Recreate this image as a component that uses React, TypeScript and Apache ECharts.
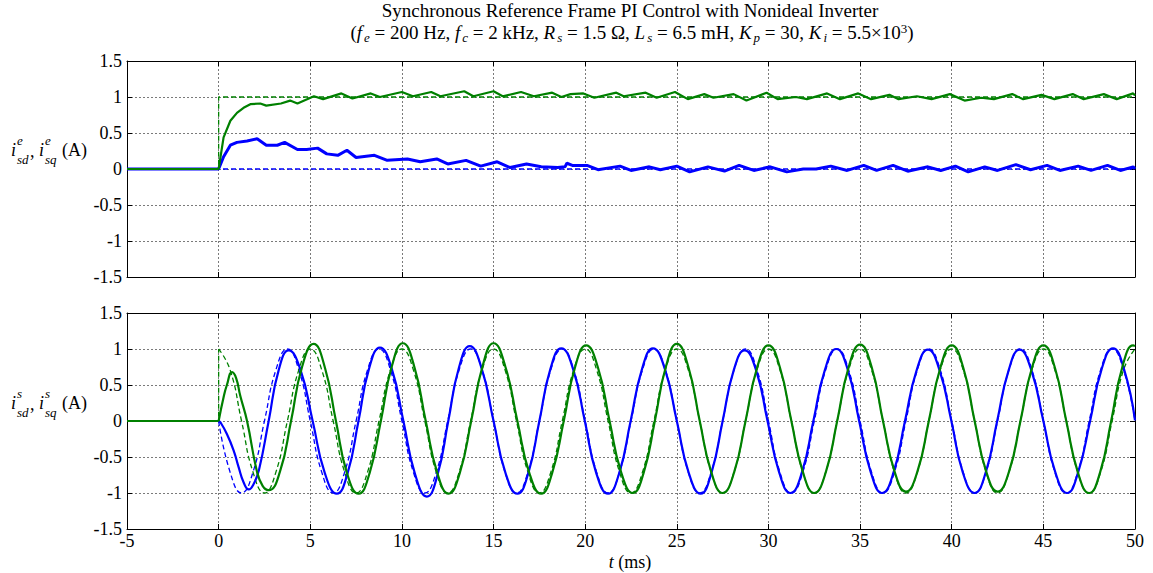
import React, { useEffect, useRef } from 'react';
import * as echarts from 'echarts';

// ---------- DATA ----------
// Top panel: synchronous-frame currents (t in ms, current in A)
const TOP_ISD_REF: number[][] = [[-5, 0], [50, 0]];
const TOP_ISQ_REF: number[][] = [[-5, 0], [0, 0], [0, 1], [50, 1]];
const TOP_ISD: number[][] = [
  [-5, 0], [0, 0], [0.27, 0.17], [0.64, 0.33], [1, 0.37], [1.55, 0.39], [2.1, 0.42], [2.6, 0.33],
  [3.2, 0.33], [3.6, 0.37], [4.3, 0.27], [4.8, 0.27], [5.4, 0.29], [5.9, 0.21], [6.5, 0.19],
  [7, 0.26], [7.5, 0.16], [8.5, 0.19], [9.2, 0.12], [10.3, 0.14], [11, 0.1], [11.9, 0.14],
  [12.5, 0.07], [13.5, 0.12], [14.3, 0.04], [15.2, 0.1], [15.9, 0.02], [16.8, 0.07], [17.6, 0.03],
  [18.5, 0.02], [18.9, 0.03], [19.0, 0.08], [19.3, 0.05], [20.1, 0.05], [20.7, -0.01], [21.9, 0.04],
  [22.5, -0.02], [23.5, 0.03], [24.1, -0.01], [25, 0.04], [25.7, -0.04], [26.7, 0.03], [27.6, -0.03],
  [28.4, 0.05], [29.2, -0.02], [30.1, 0.03], [31, -0.04], [31.9, 0], [32.6, 0], [33.4, 0.04],
  [34.3, -0.02], [35.2, 0.05], [35.9, -0.02], [36.8, 0.05], [37.6, -0.03], [38.7, 0.03], [39.4, -0.02],
  [40.2, 0.04], [40.9, -0.04], [41.8, 0.03], [42.5, -0.02], [43.5, 0.06], [44.3, -0.01], [45.2, 0.05],
  [45.9, -0.02], [46.9, 0.04], [47.6, -0.02], [48.5, 0.05], [49.2, -0.02], [49.9, 0.03], [50, 0.0],
];
const TOP_ISQ: number[][] = [
  [-5, 0], [0, 0], [0.27, 0.44], [0.64, 0.67], [1.0, 0.78], [1.36, 0.85], [1.73, 0.9], [2.27, 0.91],
  [2.6, 0.88], [3.4, 0.91], [3.9, 0.95], [4.3, 0.91], [5.2, 1.01], [5.7, 0.97], [6.7, 1.05], [7.3, 0.98],
  [8.3, 1.05], [8.8, 1.0], [10, 1.07], [10.6, 1.01], [11.6, 1.07], [12.1, 1.01], [13.4, 1.08], [13.9, 1.01],
  [15, 1.08], [15.5, 1.01], [16.5, 1.07], [17.2, 1.01], [18.2, 1.06], [18.7, 1.0], [19.2, 1.04], [19.9, 1.05],
  [20.5, 0.99], [21.7, 1.06], [22.1, 1.01], [23.3, 1.06], [23.9, 0.99], [24.9, 1.07], [25.6, 0.97],
  [26.5, 1.04], [27, 0.99], [28.1, 1.04], [28.8, 0.95], [29.9, 1.06], [30.5, 0.97], [31.5, 1.0],
  [32.1, 0.97], [33.2, 1.05], [33.9, 0.97], [34.9, 1.05], [35.6, 0.97], [36.6, 1.03], [37.1, 0.97],
  [38.1, 1.01], [38.9, 0.97], [39.9, 1.04], [40.7, 0.95], [41.6, 0.99], [42.3, 0.97], [43.3, 1.04],
  [43.9, 0.97], [44.9, 1.03], [45.6, 0.97], [46.6, 1.04], [47.2, 0.97], [48.3, 1.04], [49, 0.97],
  [49.9, 1.05], [50, 1.02],
];

// Bottom panel: stationary-frame currents
const PRE_ZERO: number[][] = [[-5, 0], [0, 0]];
const REF_ISQ_STEP: number[][] = [[-5, 0], [0, 0], [0, 1]];
const REF_T: number[] = [
  0, 0.625, 1.25, 1.875, 2.5, 3.125, 3.75, 4.375,
  5, 5.625, 6.25, 6.875, 7.5, 8.125, 8.75, 9.375,
  10, 10.625, 11.25, 11.875, 12.5, 13.125, 13.75, 14.375,
  15, 15.625, 16.25, 16.875, 17.5, 18.125, 18.75, 19.375,
  20, 20.625, 21.25, 21.875, 22.5, 23.125, 23.75, 24.375,
  25, 25.625, 26.25, 26.875, 27.5, 28.125, 28.75, 29.375,
  30, 30.625, 31.25, 31.875, 32.5, 33.125, 33.75, 34.375,
  35, 35.625, 36.25, 36.875, 37.5, 38.125, 38.75, 39.375,
  40, 40.625, 41.25, 41.875, 42.5, 43.125, 43.75, 44.375,
  45, 45.625, 46.25, 46.875, 47.5, 48.125, 48.75, 49.375,
  50,
];
const REF_ISD_S: number[] = [
  0, -0.71, -1, -0.71, 0, 0.71, 1, 0.71,
  0, -0.71, -1, -0.71, 0, 0.71, 1, 0.71,
  0, -0.71, -1, -0.71, 0, 0.71, 1, 0.71,
  0, -0.71, -1, -0.71, 0, 0.71, 1, 0.71,
  0, -0.71, -1, -0.71, 0, 0.71, 1, 0.71,
  0, -0.71, -1, -0.71, 0, 0.71, 1, 0.71,
  0, -0.71, -1, -0.71, 0, 0.71, 1, 0.71,
  0, -0.71, -1, -0.71, 0, 0.71, 1, 0.71,
  0, -0.71, -1, -0.71, 0, 0.71, 1, 0.71,
  0, -0.71, -1, -0.71, 0, 0.71, 1, 0.71,
  0,
];
const REF_ISQ_S: number[] = [
  1, 0.71, 0, -0.71, -1, -0.71, 0, 0.71,
  1, 0.71, 0, -0.71, -1, -0.71, 0, 0.71,
  1, 0.71, 0, -0.71, -1, -0.71, 0, 0.71,
  1, 0.71, 0, -0.71, -1, -0.71, 0, 0.71,
  1, 0.71, 0, -0.71, -1, -0.71, 0, 0.71,
  1, 0.71, 0, -0.71, -1, -0.71, 0, 0.71,
  1, 0.71, 0, -0.71, -1, -0.71, 0, 0.71,
  1, 0.71, 0, -0.71, -1, -0.71, 0, 0.71,
  1, 0.71, 0, -0.71, -1, -0.71, 0, 0.71,
  1, 0.71, 0, -0.71, -1, -0.71, 0, 0.71,
  1,
];
const BOT_ISD: number[][] = [
  [0, 0], [0.1, -0.02], [0.45, -0.18], [0.82, -0.41], [1.09, -0.64], [1.36, -0.85], [1.64, -0.95],
  [1.9, -0.88], [2.2, -0.68], [2.73, 0], [3.27, 0.7], [3.82, 0.98], [4.48, 0.7], [5.13, 0],
  [5.79, -0.72], [6.45, -1.01], [7.04, -0.72], [7.63, 0], [8.2, 0.72], [8.8, 1.02], [9.44, 0.73],
  [10.08, 0], [10.72, -0.74], [11.36, -1.05], [11.95, -0.74], [12.53, 0], [13.1, 0.73], [13.7, 1.04],
  [14.35, 0.73], [15.0, 0], [15.65, -0.72], [16.3, -1.01], [16.9, -0.72], [17.5, 0], [18.1, 0.72],
  [18.7, 1.01], [19.34, 0.72], [19.98, 0], [20.6, -0.72], [21.25, -1.01], [21.86, -0.72], [22.48, 0],
  [23.1, 0.72], [23.7, 1.01], [24.35, 0.72], [25.0, 0], [25.65, -0.72], [26.3, -1.01], [26.9, -0.71],
  [27.5, 0], [28.1, 0.7], [28.7, 0.98], [29.33, 0.7], [29.95, 0], [30.58, -0.71], [31.2, -1.0],
  [31.83, -0.71], [32.45, 0], [33.08, 0.71], [33.7, 1.0], [34.33, 0.71], [34.95, 0], [35.58, -0.71],
  [36.2, -1.0], [36.83, -0.71], [37.45, 0], [38.08, 0.7], [38.7, 0.99], [39.34, 0.7], [39.98, 0],
  [40.6, -0.71], [41.25, -1.0], [41.86, -0.71], [42.48, 0], [43.1, 0.7], [43.7, 0.99], [44.35, 0.7],
  [45.0, 0], [45.65, -0.71], [46.3, -1.0], [46.9, -0.71], [47.55, 0], [48.18, 0.72], [48.8, 1.01],
  [49.4, 0.72], [50, 0.01],
];
const BOT_ISQ: number[][] = [
  [0, 0], [0.27, 0.33], [0.45, 0.5], [0.73, 0.68], [0.95, 0.6], [1.18, 0.35], [1.55, 0], [2.09, -0.7],
  [2.4, -0.9], [2.73, -0.96], [3.35, -0.7], [3.95, 0], [4.55, 0.75], [5.18, 1.07], [5.8, 0.74],
  [6.4, 0], [7.0, -0.72], [7.64, -1.01], [8.24, -0.72], [8.85, 0], [9.45, 0.76], [10.05, 1.08],
  [10.68, 0.75], [11.3, 0], [11.93, -0.72], [12.55, -1.01], [13.16, -0.72], [13.78, 0], [14.4, 0.76],
  [15.0, 1.08], [15.65, 0.75], [16.3, 0], [16.95, -0.72], [17.6, -1.01], [18.2, -0.72], [18.83, 0],
  [19.44, 0.74], [20.05, 1.05], [20.7, 0.74], [21.33, 0], [21.96, -0.71], [22.6, -1.0], [23.2, -0.71],
  [23.8, 0], [24.4, 0.75], [25.0, 1.07], [25.63, 0.75], [26.25, 0], [26.88, -0.71], [27.5, -1.0],
  [28.13, -0.71], [28.75, 0], [29.38, 0.74], [30.0, 1.05], [30.63, 0.74], [31.25, 0], [31.88, -0.71],
  [32.5, -1.0], [33.13, -0.71], [33.75, 0], [34.38, 0.75], [35.0, 1.06], [35.63, 0.75], [36.25, 0],
  [36.88, -0.7], [37.5, -0.98], [38.13, -0.7], [38.75, 0], [39.38, 0.74], [40.0, 1.05], [40.63, 0.74],
  [41.25, 0], [41.88, -0.7], [42.5, -0.98], [43.13, -0.7], [43.75, 0], [44.38, 0.74], [45.0, 1.05],
  [45.63, 0.74], [46.25, 0], [46.88, -0.71], [47.5, -1.0], [48.1, -0.71], [48.7, 0], [49.3, 0.74],
  [49.9, 1.05], [50, 1.04],
];

// ---------- STYLE ----------
const FONT = '"Liberation Serif", "Times New Roman", serif';
const BLUE = '#0000ff';
const GREEN = '#008000';
const FS = 18;
const TFS = 19;
const GRID_LINE = { color: '#7a7a7a', type: [2, 2], width: 1 };

const xMain = (gridIndex: number, showLabels: boolean) => ({
  type: 'value', gridIndex, min: -5, max: 50, interval: 5, position: 'bottom',
  axisLine: { onZero: false, lineStyle: { color: '#000', width: 1 } },
  axisTick: { inside: true, length: 5, lineStyle: { color: '#000' } },
  axisLabel: { show: showLabels, color: '#000', fontFamily: FONT, fontSize: FS, margin: 3 },
  splitLine: { show: true, lineStyle: GRID_LINE },
});
const xOpp = (gridIndex: number) => ({
  type: 'value', gridIndex, min: -5, max: 50, interval: 5, position: 'top',
  axisLine: { onZero: false, lineStyle: { color: '#000', width: 1 } },
  axisTick: { inside: true, length: 5, lineStyle: { color: '#000' } },
  axisLabel: { show: false }, splitLine: { show: false },
});
const yMain = (gridIndex: number) => ({
  type: 'value', gridIndex, min: -1.5, max: 1.5, interval: 0.5, position: 'left',
  axisLine: { onZero: false, lineStyle: { color: '#000', width: 1 } },
  axisTick: { inside: true, length: 5, lineStyle: { color: '#000' } },
  axisLabel: { color: '#000', fontFamily: FONT, fontSize: FS, margin: 5 },
  splitLine: { show: true, lineStyle: GRID_LINE },
});
const yOpp = (gridIndex: number) => ({
  type: 'value', gridIndex, min: -1.5, max: 1.5, interval: 0.5, position: 'right',
  axisLine: { onZero: false, lineStyle: { color: '#000', width: 1 } },
  axisTick: { inside: true, length: 5, lineStyle: { color: '#000' } },
  axisLabel: { show: false }, splitLine: { show: false },
});

const line = (data: number[][], axis: number, color: string, width: number, dashed: boolean, smooth: boolean) => ({
  type: 'line', data, xAxisIndex: axis, yAxisIndex: axis, showSymbol: false, symbol: 'none',
  smooth: smooth ? 0.5 : false, silent: true,
  lineStyle: { color, width, type: dashed ? [5, 3] : 'solid' },
});

const txt = (x: number, y: number, text: string, size: number, italic: boolean, align = 'left') => ({
  type: 'text', x, y, silent: true,
  style: {
    text, fill: '#000', fontFamily: FONT, fontSize: size, fontStyle: italic ? 'italic' : 'normal',
    align, textAlign: align, verticalAlign: 'middle', textVerticalAlign: 'middle',
  },
});

const yLabel = (cy: number, sup: string) => [
  txt(11, cy, 'i', FS, true),
  txt(17, cy - 10, sup, 13, true),
  txt(17, cy + 9, 'sd', 13, true),
  txt(30, cy + 1, ',', FS, false),
  txt(39, cy, 'i', FS, true),
  txt(45, cy - 10, sup, 13, true),
  txt(45, cy + 9, 'sq', 13, true),
  txt(62, cy, '(A)', FS, false),
];

const SUBTITLE =
  '(' + '{it|f}{sub|e} = 200 Hz, {it|f}{sub|c} = 2 kHz, {it|R}{sub|s} = 1.5 Ω, ' +
  '{it|L}{sub|s} = 6.5 mH, {it|K}{sub|p} = 30, {it|K}{sub|i} = 5.5×10{sup|3})';

export default function App() {
  const ref = useRef<HTMLDivElement>(null);
  useEffect(() => {
    if (!ref.current) return;
    const chart = echarts.init(ref.current, undefined, { renderer: 'svg' });
    const refIsd = REF_T.map((t, i) => [t, REF_ISD_S[i]]);
    const refIsq = REF_T.map((t, i) => [t, REF_ISQ_S[i]]);
    chart.setOption({
      animation: false,
      backgroundColor: '#fff',
      grid: [
        { left: 127, right: 18, top: 61, height: 216 },
        { left: 127, right: 18, top: 313, height: 216 },
      ],
      xAxis: [xMain(0, false), xOpp(0), xMain(1, true), xOpp(1)],
      yAxis: [yMain(0), yOpp(0), yMain(1), yOpp(1)],
      series: [
        line(TOP_ISD_REF, 0, BLUE, 1.3, true, false),
        line(TOP_ISQ_REF, 0, GREEN, 1.3, true, false),
        line(TOP_ISD, 0, BLUE, 3, false, false),
        line(TOP_ISQ, 0, GREEN, 2.2, false, false),
        line(refIsd, 2, BLUE, 1.3, true, true),
        line(REF_ISQ_STEP, 2, GREEN, 1.3, true, false),
        line(refIsq, 2, GREEN, 1.3, true, true),
        line(BOT_ISD, 2, BLUE, 2.2, false, true),
        line(BOT_ISQ, 2, GREEN, 2.2, false, true),
        line(PRE_ZERO, 2, GREEN, 2, false, false),
      ],
      graphic: [
        txt(630, 10.5, 'Synchronous Reference Frame PI Control with Nonideal Inverter', TFS, false, 'center'),
        {
          type: 'text', x: 632, y: 32.5, silent: true,
          style: {
            text: SUBTITLE,
            fill: '#000', fontFamily: FONT, fontSize: TFS, lineHeight: 22,
            align: 'center', textAlign: 'center', verticalAlign: 'middle', textVerticalAlign: 'middle',
            rich: {
              it: { fontFamily: FONT, fontSize: TFS, fontStyle: 'italic', lineHeight: 22, fill: '#000' },
              sub: {
                fontFamily: FONT, fontSize: 13, fontStyle: 'italic', lineHeight: 9,
                padding: [0, 0, 0, 2], verticalAlign: 'bottom', fill: '#000',
              },
              sup: { fontFamily: FONT, fontSize: 13, lineHeight: 9, verticalAlign: 'top', fill: '#000' },
            },
          },
        },
        ...yLabel(150, 'e'),
        ...yLabel(403, 's'),
        {
          type: 'text', x: 630, y: 562, silent: true,
          style: {
            text: '{it|t} (ms)', fill: '#000', fontFamily: FONT, fontSize: FS,
            align: 'center', textAlign: 'center', verticalAlign: 'middle', textVerticalAlign: 'middle',
            rich: { it: { fontFamily: FONT, fontSize: FS, fontStyle: 'italic', fill: '#000' } },
          },
        },
      ],
    });
    return () => chart.dispose();
  }, []);
  return <div ref={ref} style={{ position: 'fixed', left: 0, top: 0, width: 1153, height: 573, background: '#fff' }} />;
}
